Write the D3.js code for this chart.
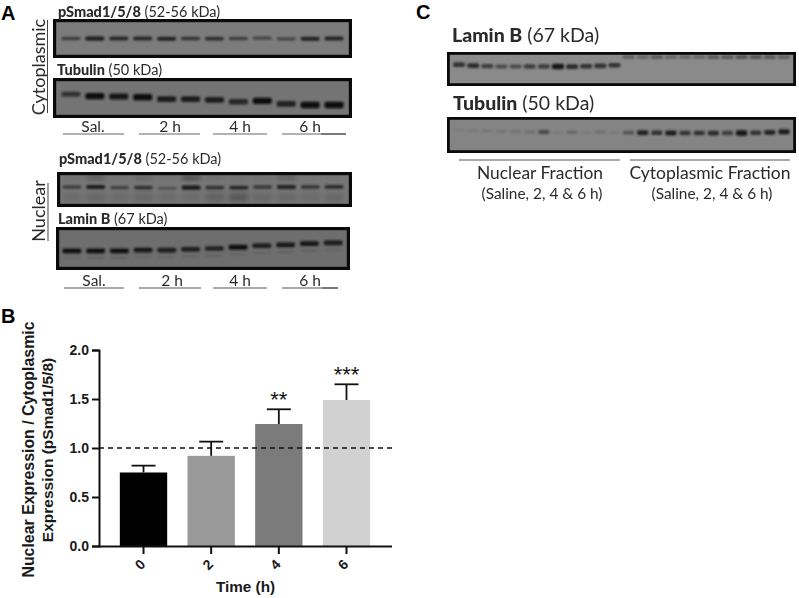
<!DOCTYPE html>
<html>
<head>
<meta charset="utf-8">
<script src="https://cdn.jsdelivr.net/npm/d3@7"></script>
<style>
  html, body { margin: 0; padding: 0; background: #fff; }
  svg { display: block; }
  .lab { font-family: Lato, "Open Sans", sans-serif; fill: #2b2b2b; }
  .panel { font-family: "Liberation Sans", Arial, sans-serif; font-weight: bold; font-size: 20px; fill: #000; }
  .bar-txt { font-family: "Liberation Sans", Arial, sans-serif; font-weight: bold; fill: #1a1a1a; }
</style>
</head>
<body>
<svg id="fig" width="799" height="598"></svg>
<script>
// bar chart (panel B)
const times = ['0', '2', '4', '6'];
const ratio = [0.75, 0.92, 1.245, 1.49];
const ratioErr = [0.07, 0.145, 0.15, 0.16];
const stars = ['', '', '**', '***'];
const yTicks = [0, 0.5, 1, 1.5, 2];

// blot lanes: band darkness 0-1, and position down the membrane 0-1
const cytoSmad = [0.55, 0.85, 0.75, 0.75, 0.8, 0.65, 0.7, 0.55, 0.5, 0.5, 0.8, 0.8];
const cytoSmadPos = [0.5, 0.5, 0.5, 0.5, 0.51, 0.5, 0.5, 0.5, 0.49, 0.51, 0.51, 0.5];
const cytoTub = [0.65, 0.95, 0.9, 0.95, 0.85, 0.85, 0.85, 0.75, 0.95, 0.8, 1, 1];
const cytoTubPos = [0.4, 0.45, 0.46, 0.48, 0.53, 0.53, 0.55, 0.6, 0.58, 0.66, 0.69, 0.69];
const nucSmad = [0.55, 0.85, 0.5, 0.65, 0.35, 0.9, 0.65, 0.75, 0.6, 0.8, 0.65, 0.7];
const nucSmadPos = [0.42, 0.42, 0.44, 0.44, 0.46, 0.44, 0.44, 0.44, 0.42, 0.42, 0.42, 0.42];
const nucLamin = [0.95, 0.95, 0.95, 0.9, 0.85, 0.85, 0.8, 0.95, 0.85, 0.9, 0.9, 0.85];
const nucLaminPos = [0.56, 0.56, 0.56, 0.54, 0.54, 0.52, 0.5, 0.47, 0.43, 0.41, 0.38, 0.36];
const fracLamin = [0.7, 0.75, 0.6, 0.5, 0.5, 0.6, 0.6, 0.95, 0.75, 0.7, 0.7, 0.7, 0.35, 0.3, 0.4, 0.3, 0.3, 0.3, 0.4, 0.4, 0.45, 0.45, 0.4, 0.35];
const fracLaminPos = [0.36, 0.39, 0.41, 0.42, 0.42, 0.42, 0.42, 0.42, 0.42, 0.41, 0.4, 0.38, 0.12, 0.12, 0.12, 0.12, 0.12, 0.12, 0.12, 0.12, 0.12, 0.12, 0.12, 0.12];
const fracTub = [0.06, 0.08, 0.12, 0.14, 0.15, 0.18, 0.5, 0.08, 0.25, 0.08, 0.18, 0.1, 0.4, 0.8, 0.7, 0.85, 0.65, 0.7, 0.75, 0.6, 0.95, 0.7, 0.8, 0.85];
const fracTubPos = [0.35, 0.36, 0.38, 0.39, 0.4, 0.41, 0.41, 0.42, 0.41, 0.42, 0.41, 0.42, 0.43, 0.43, 0.43, 0.44, 0.44, 0.44, 0.44, 0.44, 0.44, 0.43, 0.42, 0.4];
// faint smears in the nuclear pSmad lanes, above and below the band
const nucSmear = [0.1, 0.4, 0.05, 0.25, 0.05, 0.6, 0.15, 0.1, 0.1, 0.4, 0.05, 0.05];
const nucSmearLow = [0.1, 0.15, 0.1, 0.15, 0.1, 0.1, 0.2, 0.3, 0.15, 0.15, 0.1, 0.15];
// ghost band under the lamin bands
const nucLaminGhost = [0.1, 0.15, 0.15, 0.1, 0.1, 0.1, 0.15, 0.1, 0.12, 0.15, 0.15, 0.1];

const svg = d3.select('#fig');
const defs = svg.append('defs');
defs.append('filter').attr('id', 'soft')
  .attr('x', '-30%').attr('y', '-100%').attr('width', '160%').attr('height', '300%')
  .append('feGaussianBlur').attr('stdDeviation', 1);
defs.append('filter').attr('id', 'smear')
  .attr('x', '-30%').attr('y', '-100%').attr('width', '160%').attr('height', '300%')
  .append('feGaussianBlur').attr('stdDeviation', 2.5);
defs.append('filter').attr('id', 'txt')
  .append('feGaussianBlur').attr('stdDeviation', 0.3);

const blot = (x0, x1, y0, y1, vals, pos, opt) => {
  const o = Object.assign({ bg: '#7b7b7b', start: x0, end: x1, bw: 0.8, bh: [2.5, 5], sw: 3.2 }, opt);
  // frame coordinates are the outer edge of the black border
  x0 += o.sw / 2; x1 -= o.sw / 2; y0 += o.sw / 2; y1 -= o.sw / 2;
  const g = svg.append('g');
  const clipId = 'c' + Math.round(x0) + Math.round(y0);
  defs.append('clipPath').attr('id', clipId)
    .append('rect').attr('x', x0).attr('y', y0).attr('width', x1 - x0).attr('height', y1 - y0);
  g.append('rect').attr('x', x0).attr('y', y0).attr('width', x1 - x0).attr('height', y1 - y0).attr('fill', o.bg);
  const lane = d3.scaleBand().domain(d3.range(vals.length)).range([o.start, o.end]);
  const yy = d3.scaleLinear().domain([0, 1]).range([y0, y1]);
  const dark = d3.scaleLinear().domain([0, 1]).range([o.bg, '#0c0c0c']);
  const thick = d3.scaleLinear().domain([0, 1]).range(o.bh);
  const bands = g.append('g').attr('clip-path', 'url(#' + clipId + ')');
  (o.smears || []).forEach(s => {
    bands.append('g').attr('filter', 'url(#smear)').selectAll('rect').data(s.vals).join('rect')
      .attr('x', (d, i) => lane(i) + lane.bandwidth() * 0.1)
      .attr('width', lane.bandwidth() * 0.8)
      .attr('y', yy(s.at)).attr('height', s.h)
      .attr('fill', d => dark(d));
  });
  bands.append('g').attr('filter', 'url(#soft)').selectAll('rect').data(vals).join('rect')
    .attr('x', (d, i) => lane(i) + lane.bandwidth() * (1 - o.bw) / 2)
    .attr('width', lane.bandwidth() * o.bw)
    .attr('y', (d, i) => yy(pos[i]) - thick(d) / 2)
    .attr('height', d => thick(d))
    .attr('rx', 2)
    .attr('fill', d => dark(d));
  if (o.ghost) {
    bands.append('g').attr('filter', 'url(#soft)').selectAll('rect').data(o.ghost).join('rect')
      .attr('x', (d, i) => lane(i) + lane.bandwidth() * 0.15)
      .attr('width', lane.bandwidth() * 0.7)
      .attr('y', (d, i) => yy(pos[i]) + 6).attr('height', 2)
      .attr('fill', d => dark(d));
  }
  g.append('rect').attr('x', x0).attr('y', y0).attr('width', x1 - x0).attr('height', y1 - y0)
    .attr('fill', 'none').attr('stroke', '#0a0a0a').attr('stroke-width', o.sw);
};

blot(53, 352, 19, 58, cytoSmad, cytoSmadPos, { start: 59, end: 346, bg: '#7c7c7c', bh: [2, 4.5] });
blot(53, 352, 78, 118, cytoTub, cytoTubPos, { start: 59, end: 346, bg: '#747474', bh: [2.5, 6.5] });
blot(57, 352, 172, 207, nucSmad, nucSmadPos, {
  start: 60, end: 346, bg: '#767676', bh: [2, 4.5],
  smears: [{ vals: nucSmear, at: 0.08, h: 3 }, { vals: nucSmearLow, at: 0.62, h: 8 }]
});
blot(56, 350, 227, 270, nucLamin, nucLaminPos, { start: 60, end: 345, bg: '#6e6e6e', bh: [2.5, 5], ghost: nucLaminGhost });
blot(447, 796, 52, 86, fracLamin, fracLaminPos, { start: 452, end: 791, bg: '#8a8a8a', bw: 0.86, bh: [2.5, 5.5], sw: 2.8 });
blot(447, 796, 117, 153, fracTub, fracTubPos, { start: 452, end: 791, bg: '#848484', bw: 0.8, bh: [2.5, 5.5], sw: 2.8 });

const label = (x, y, bold, rest, size) => {
  const t = svg.append('text').attr('class', 'lab').attr('x', x).attr('y', y)
    .attr('font-size', size).attr('filter', 'url(#txt)');
  t.append('tspan').attr('font-weight', 900).text(bold);
  t.append('tspan').text(rest);
};
label(58, 17, 'pSmad1/5/8', ' (52-56 kDa)', 14.5);
label(57, 75, 'Tubulin', ' (50 kDa)', 14.5);
label(59, 164, 'pSmad1/5/8', ' (52-56 kDa)', 14.5);
label(58, 224, 'Lamin B', ' (67 kDa)', 14.5);
label(452, 42, 'Lamin B', ' (67 kDa)', 19.5);
label(453, 110, 'Tubulin', ' (50 kDa)', 19.5);

const hLines = [
  [63, 124, 134, '#666'], [139, 200, 134, '#666'], [213, 267, 134, '#666'], [282, 321, 134, '#666'], [321, 346, 134, '#222'],
  [64, 124, 288, '#555'], [139, 201, 288, '#555'], [213, 267, 288, '#555'], [282, 322, 288, '#555'], [322, 338, 288, '#222'],
  [459, 620, 160, '#555'], [630, 790, 160, '#555']
];
svg.append('g').selectAll('line').data(hLines).join('line')
  .attr('x1', d => d[0]).attr('x2', d => d[1]).attr('y1', d => d[2]).attr('y2', d => d[2])
  .attr('stroke', d => d[3]).attr('stroke-width', 1.2);

const laneLabels = [
  ['Sal.', 93, 132], ['2 h', 170, 132], ['4 h', 240, 132], ['6 h', 310, 132],
  ['Sal.', 94, 286], ['2 h', 172, 286], ['4 h', 240, 286], ['6 h', 310, 286]
];
svg.append('g').selectAll('text').data(laneLabels).join('text')
  .attr('class', 'lab').attr('font-size', 15.5).attr('text-anchor', 'middle')
  .attr('x', d => d[1]).attr('y', d => d[2]).attr('filter', 'url(#txt)').text(d => d[0]);

const fracLabels = [
  ['Nuclear Fraction', 540, 179, 17.4], ['Cytoplasmic Fraction', 710, 179, 17.5],
  ['(Saline, 2, 4 & 6 h)', 542, 199, 15.4], ['(Saline, 2, 4 & 6 h)', 712, 199, 15.4]
];
svg.append('g').selectAll('text').data(fracLabels).join('text')
  .attr('class', 'lab').attr('text-anchor', 'middle')
  .attr('x', d => d[1]).attr('y', d => d[2]).attr('font-size', d => d[3]).attr('filter', 'url(#txt)').text(d => d[0]);

// rotated side labels with their rule
const side = [['Cytoplasmic', 45, 67], ['Nuclear', 45, 211]];
side.forEach(([txt, sx, cy]) => {
  svg.append('text').attr('class', 'lab').attr('font-size', 18).attr('text-anchor', 'middle')
    .attr('transform', 'translate(' + sx + ',' + cy + ') rotate(-90)')
    .attr('filter', 'url(#txt)').text(txt);
});
svg.append('line').attr('x1', 47.5).attr('x2', 47.5).attr('y1', 20).attr('y2', 113).attr('stroke', '#444');
svg.append('line').attr('x1', 48).attr('x2', 48).attr('y1', 183).attr('y2', 241).attr('stroke', '#444');

[['A', 1, 20], ['B', 1, 323], ['C', 416, 19]].forEach(d => {
  svg.append('text').attr('class', 'panel').attr('x', d[1]).attr('y', d[2]).text(d[0]);
});

// panel B
const x = d3.scaleBand().domain(times).range([109, 381]).paddingInner(0.3).paddingOuter(0.16);
const y = d3.scaleLinear().domain([0, 2]).range([546, 350]);
const barFill = ['#000000', '#999999', '#7b7b7b', '#d1d1d1'];

const chart = svg.append('g');
chart.selectAll('rect').data(ratio).join('rect')
  .attr('x', (d, i) => x(times[i]))
  .attr('width', x.bandwidth())
  .attr('y', d => y(d))
  .attr('height', d => y(0) - y(d))
  .attr('fill', (d, i) => barFill[i]);

const err = chart.selectAll('g.err').data(ratio).join('g').attr('class', 'err')
  .attr('stroke', '#111').attr('stroke-width', 1.8);
err.append('line')
  .attr('x1', (d, i) => x(times[i]) + x.bandwidth() / 2)
  .attr('x2', (d, i) => x(times[i]) + x.bandwidth() / 2)
  .attr('y1', d => y(d))
  .attr('y2', (d, i) => y(d + ratioErr[i]));
err.append('line')
  .attr('x1', (d, i) => x(times[i]) + x.bandwidth() / 2 - 12)
  .attr('x2', (d, i) => x(times[i]) + x.bandwidth() / 2 + 12)
  .attr('y1', (d, i) => y(d + ratioErr[i]))
  .attr('y2', (d, i) => y(d + ratioErr[i]));

chart.selectAll('text.star').data(stars).join('text').attr('class', 'star')
  .attr('text-anchor', 'middle')
  .attr('font-family', '"Liberation Sans", Arial, sans-serif')
  .attr('font-size', 22).attr('fill', '#111')
  .attr('x', (d, i) => x(times[i]) + x.bandwidth() / 2)
  .attr('y', (d, i) => y(ratio[i] + ratioErr[i]) - 2)
  .text(d => d);

chart.append('line').attr('x1', 99).attr('x2', 392).attr('y1', y(1)).attr('y2', y(1))
  .attr('stroke', '#111').attr('stroke-width', 1.3).attr('stroke-dasharray', '5,4');

const yAxis = d3.axisLeft(y).tickValues(yTicks).tickFormat(d3.format('.1f')).tickSize(7);
const yG = chart.append('g').attr('transform', 'translate(99,0)').call(yAxis);
const xAxis = d3.axisBottom(x).tickSize(8);
const xG = chart.append('g').attr('transform', 'translate(0,546)').call(xAxis);
xG.select('.domain').attr('d', 'M99,0.5H392');
[yG, xG].forEach(a => {
  a.selectAll('.domain').attr('stroke', '#111').attr('stroke-width', 2);
  a.selectAll('.tick line').attr('stroke', '#111').attr('stroke-width', 2);
  a.selectAll('text').attr('class', 'bar-txt').attr('font-size', 14);
});
xG.selectAll('text').attr('text-anchor', 'middle').attr('dy', 0)
  .attr('transform', 'translate(0,22) rotate(-45)').attr('y', 0).attr('x', 0);

svg.append('text').attr('class', 'bar-txt').attr('font-size', 15.3).attr('text-anchor', 'middle')
  .attr('x', 245.5).attr('y', 592).text('Time (h)');
svg.append('text').attr('class', 'bar-txt').attr('font-size', 15.9).attr('text-anchor', 'middle')
  .attr('transform', 'translate(34,449.5) rotate(-90)').text('Nuclear Expression / Cytoplasmic');
svg.append('text').attr('class', 'bar-txt').attr('font-size', 15.5).attr('text-anchor', 'middle')
  .attr('transform', 'translate(53,450) rotate(-90)').text('Expression (pSmad1/5/8)');
</script>
</body>
</html>
